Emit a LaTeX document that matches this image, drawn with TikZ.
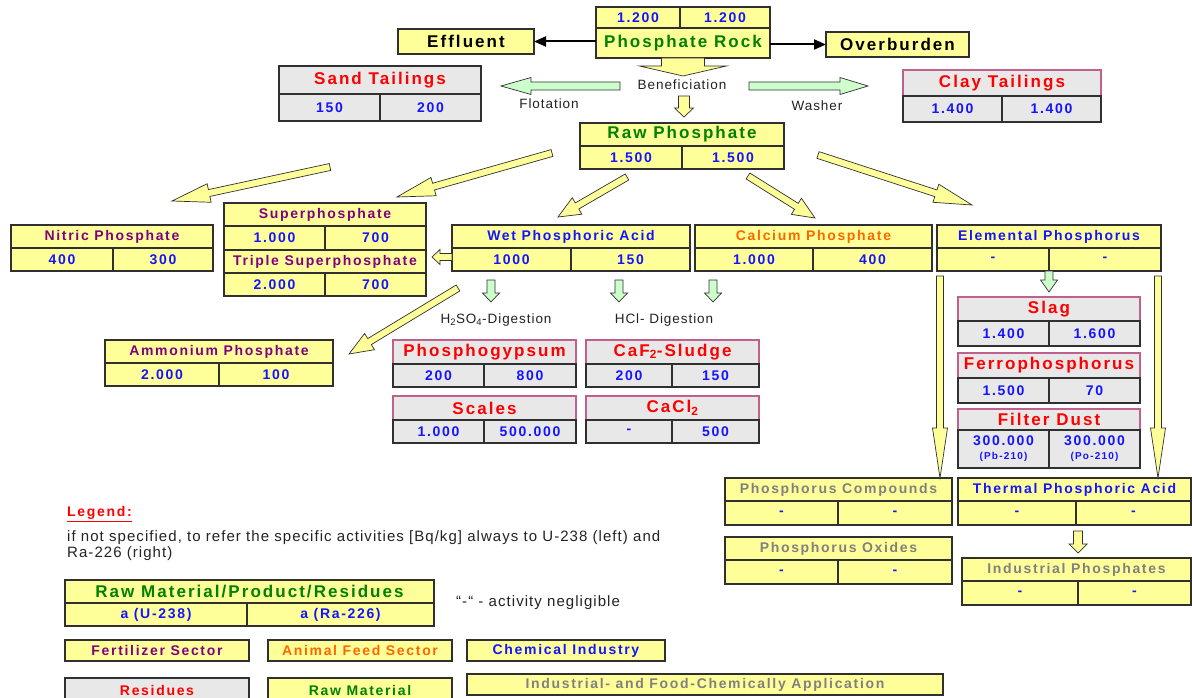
\documentclass[tikz,border=0pt]{standalone}
\usepackage{fontspec}
\setmainfont{Liberation Sans}
\newfontfamily\lsb[LetterSpace=12]{Liberation Sans}
\newfontfamily\lsr[LetterSpace=7]{Liberation Sans}
\usetikzlibrary{calc,arrows.meta}
\definecolor{yel}{HTML}{FFFF99}
\definecolor{gry}{HTML}{E8E8E8}
\definecolor{lgr}{HTML}{CCFFCC}
\definecolor{mauve}{HTML}{C0608C}
\definecolor{boxline}{HTML}{303030}
\definecolor{tgreen}{HTML}{008000}
\definecolor{tblue}{HTML}{1414FF}
\definecolor{tpurple}{HTML}{800080}
\definecolor{torange}{HTML}{FF6600}
\definecolor{tred}{HTML}{FF0000}
\definecolor{tgray}{HTML}{808080}
\definecolor{ttext}{HTML}{222222}
\tikzset{
 cell/.style={draw=boxline,line width=1.1pt,inner sep=0pt,outer sep=0pt,anchor=north west,align=center},
 Y/.style={fill=yel}, G/.style={fill=gry},
 big/.style={font=\lsb\bfseries\fontsize{17}{19}\selectfont},
 med/.style={font=\lsb\bfseries\fontsize{14}{16}\selectfont},
 val/.style={draw=boxline,text=tblue,font=\lsb\bfseries\fontsize{14}{15}\selectfont},
 lbl/.style={text=ttext,font=\lsr\fontsize{13.5}{15}\selectfont,inner sep=0pt},
 legtxt/.style={text=ttext,font=\lsr\fontsize{15}{16.5}\selectfont,inner sep=0pt},
 yarr/.style={fill=yel,draw=boxline,line width=0.7pt,line join=miter},
 garr/.style={fill=lgr,draw=boxline,line width=0.7pt,line join=miter},
 blk/.style={line width=2pt,-{Triangle[length=12pt,width=10pt]}},
 res/.style={G,big,text=tred,draw=mauve},
}
\newcommand\tb[9]{%
  \tikzset{tbcur/.style={#8}}%
  \node[cell,tbcur,minimum width=#4pt-#2pt,minimum height=#5pt-#3pt] (#1) at (#2,#3) {#9};%
  \def\tbN{#1}\def\tbA{#2}\def\tbB{#4}\def\tbM{#5}\def\tbE{#6}\def\tbD{#7}%
  \tbvals}
\newcommand\tbvals[2]{%
  \node[cell,tbcur,val,minimum width=\tbD pt-\tbA pt,minimum height=\tbE pt-\tbM pt] (\tbN-l) at (\tbA,\tbM) {#1};%
  \node[cell,tbcur,val,minimum width=\tbB pt-\tbD pt,minimum height=\tbE pt-\tbM pt] (\tbN-r) at (\tbD,\tbM) {#2};}
\newcommand\barrow[6]{%
  \coordinate (bh) at ($(#2)!#5pt!(#1)$);%
  \draw[#6] ($(#1)!#3pt!90:(#2)$) -- ($(bh)!#3pt!-90:(#1)$) -- ($(bh)!#4pt!-90:(#1)$) -- (#2) -- ($(bh)!#4pt!90:(#1)$) -- ($(bh)!#3pt!90:(#1)$) -- ($(#1)!#3pt!-90:(#2)$) -- cycle;}
\begin{document}
\begin{tikzpicture}[x=1pt,y=-1pt]
\useasboundingbox (0,0) rectangle (1192,698);
% ---------- top ----------
\node[cell,Y,val,minimum width=84pt,minimum height=21pt] (pr-l) at (596,7) {1.200};
\node[cell,Y,val,minimum width=90pt,minimum height=21pt] (pr-r) at (680,7) {1.200};
\node[cell,Y,big,text=tgreen,minimum width=174pt,minimum height=30pt] (pr) at (596,28) {Phosphate Rock};
\node[cell,Y,big,text=black,minimum width=136pt,minimum height=25pt] (eff) at (398,29) {Effluent};
\node[cell,Y,big,text=black,minimum width=143pt,minimum height=25pt] (ovb) at (826,32) {Overburden};
\draw[blk] (pr.west |- eff.east) -- (eff.east);
\draw[blk] (pr.east |- ovb.west) -- (ovb.west);
\coordinate (bd) at (683,76);
\barrow{pr.south}{bd}{21.5}{43.5}{10}{yarr}
\node[lbl] (tben) at (682,85) {Beneficiation};
\node[lbl] (tflot) at (549,104) {Flotation};
\node[lbl] (twash) at (817,106) {Washer};
\coordinate (fla) at (620,86); \coordinate (flb) at (501,86);
\barrow{fla}{flb}{4}{8.5}{30}{garr}
\coordinate (wsa) at (749,86); \coordinate (wsb) at (868,86);
\barrow{wsa}{wsb}{4}{8.5}{28}{garr}
\tb{st}{279}{66}{481}{94}{121}{380}{G,big,text=tred}{Sand Tailings}{150}{200}
\tb{ct}{903}{70}{1101}{96}{122}{1002}{res}{Clay Tailings}{1.400}{1.400}
\tb{rp}{580}{123}{784}{146}{169}{682}{Y,big,text=tgreen}{Raw Phosphate}{1.500}{1.500}
\coordinate (rda) at (684,96); \coordinate (rdb) at (684,117);
\barrow{rda}{rdb}{5.5}{9.5}{9}{yarr}
% ---------- diagonal arrows ----------
\coordinate (d1a) at (330,167); \coordinate (d1b) at (172,201);
\barrow{d1a}{d1b}{3.5}{9.5}{38}{yarr}
\coordinate (d2a) at (552,153); \coordinate (d2b) at (397,197);
\barrow{d2a}{d2b}{3.5}{9.5}{38}{yarr}
\coordinate (d3a) at (627,177); \coordinate (d3b) at (558,217);
\barrow{d3a}{d3b}{3.5}{9.5}{22}{yarr}
\coordinate (d4a) at (748,176); \coordinate (d4b) at (815,218);
\barrow{d4a}{d4b}{3.5}{9.5}{22}{yarr}
\coordinate (d5a) at (818,155); \coordinate (d5b) at (972,205);
\barrow{d5a}{d5b}{3.5}{9.5}{38}{yarr}
\coordinate (d6a) at (458,288); \coordinate (d6b) at (349,354);
\barrow{d6a}{d6b}{3.5}{9.5}{24}{yarr}
% ---------- second row ----------
\tb{np}{11}{225}{213}{248}{271}{113}{Y,med,text=tpurple}{Nitric Phosphate}{400}{300}
\tb{sp}{224}{203}{426}{226}{250}{325}{Y,med,text=tpurple}{Superphosphate}{1.000}{700}
\tb{tsp}{224}{250}{426}{273}{296}{325}{Y,med,text=tpurple}{Triple Superphosphate}{2.000}{700}
\tb{wpa}{452}{225}{690}{248}{271}{571}{Y,med,text=tblue}{Wet Phosphoric Acid}{1000}{150}
\tb{cap}{695}{225}{932}{248}{271}{813}{Y,med,text=torange}{Calcium Phosphate}{1.000}{400}
\tb{ep}{937}{225}{1161}{248}{271}{1049}{Y,med,text=tblue}{Elemental Phosphorus}{-}{-}
\coordinate (sla) at (452,257); \coordinate (slb) at (432,257);
\barrow{sla}{slb}{3.5}{7.5}{8}{yarr}
\coordinate (g1a) at (491,280); \coordinate (g1b) at (491,302);
\barrow{g1a}{g1b}{4}{8.5}{9}{garr}
\coordinate (g2a) at (619,280); \coordinate (g2b) at (619,302);
\barrow{g2a}{g2b}{4}{8.5}{9}{garr}
\coordinate (g3a) at (713,280); \coordinate (g3b) at (713,302);
\barrow{g3a}{g3b}{4}{8.5}{9}{garr}
\node[lbl] (th2so4) at (496,320) {H\textsubscript{2}SO\textsubscript{4}-Digestion};
\node[lbl] (thcl) at (664,320) {HCl- Digestion};
\coordinate (epb) at (1049,292);
\barrow{ep-r.south west}{epb}{4}{8.5}{12}{garr}
% ---------- residues ----------
\tb{ap}{105}{340}{333}{363}{386}{219}{Y,med,text=tpurple}{Ammonium Phosphate}{2.000}{100}
\tb{pg}{393}{340}{576}{364}{387}{484}{res}{Phosphogypsum}{200}{800}
\tb{caf}{586}{340}{759}{364}{387}{672}{res}{CaF\textsubscript{2}-Sludge}{200}{150}
\tb{sc}{393}{396}{576}{420}{443}{484}{res}{Scales}{1.000}{500.000}
\tb{ccl}{586}{396}{759}{420}{443}{672}{res}{CaCl\textsubscript{2}}{-}{500}
\tb{sl}{958}{297}{1140}{321}{346}{1049}{res}{Slag}{1.400}{1.600}
\tb{fp}{958}{353}{1140}{378}{403}{1049}{res}{Ferrophosphorus}{1.500}{70}
\tb{fd}{958}{409}{1140}{430}{468}{1049}{res}{Filter Dust}{300.000\\[-1pt]{\fontsize{10}{11}\selectfont (Pb-210)}}{300.000\\[-1pt]{\fontsize{10}{11}\selectfont (Po-210)}}
% ---------- lower right ----------
\tb{pc}{725}{478}{952}{501}{525}{838}{Y,med,text=tgray}{Phosphorus Compounds}{-}{-}
\tb{tpa}{958}{478}{1191}{501}{525}{1076}{Y,med,text=tblue}{Thermal Phosphoric Acid}{-}{-}
\tb{po}{725}{537}{952}{560}{584}{838}{Y,med,text=tgray}{Phosphorus Oxides}{-}{-}
\tb{ip}{962}{558}{1191}{581}{605}{1078}{Y,med,text=tgray}{Industrial Phosphates}{-}{-}
\coordinate (l1a) at (940,276); \coordinate (l1b) at (940,478);
\barrow{l1a}{l1b}{3.5}{7.5}{50}{yarr}
\coordinate (l2a) at (1158,276); \coordinate (l2b) at (1158,478);
\barrow{l2a}{l2b}{3.5}{7.5}{50}{yarr}
\coordinate (tpb) at (1078,553); \coordinate (tpa0) at (1078,531);
\barrow{tpa0}{tpb}{4.5}{9}{9}{yarr}
% ---------- legend ----------
\node[anchor=west,inner sep=0pt,text=tred,font=\lsb\bfseries\fontsize{14}{16}\selectfont] (lgd) at (67,514) {\underline{Legend:}};
\node[legtxt,anchor=north west,align=left] (lgtext) at (67,530) {if not specified, to refer the specific activities [Bq/kg] always to U-238 (left) and\\Ra-226 (right)};
\tb{lg}{65}{580}{434}{603}{626}{247}{Y,big,text=tgreen}{Raw Material/Product/Residues}{a (U-238)}{a (Ra-226)}
\node[legtxt,anchor=west] (lneg) at (456,603) {“-“ - activity negligible};
\node[cell,Y,med,text=tpurple,minimum width=184pt,minimum height=21pt] (lfs) at (65,640) {Fertilizer Sector};
\node[cell,Y,med,text=torange,minimum width=184pt,minimum height=21pt] (lafs) at (268,640) {Animal Feed Sector};
\node[cell,Y,med,text=tblue,minimum width=198pt,minimum height=21pt] (lci) at (467,640) {Chemical Industry};
\node[cell,G,med,text=tred,minimum width=184pt,minimum height=24pt] (lres) at (65,678) {Residues};
\node[cell,Y,med,text=tgreen,minimum width=184pt,minimum height=24pt] (lrm) at (268,678) {Raw Material};
\node[cell,Y,med,text=tgray,minimum width=476pt,minimum height=21pt] (lifa) at (467,674) {Industrial- and Food-Chemically Application};
\end{tikzpicture}
\end{document}
